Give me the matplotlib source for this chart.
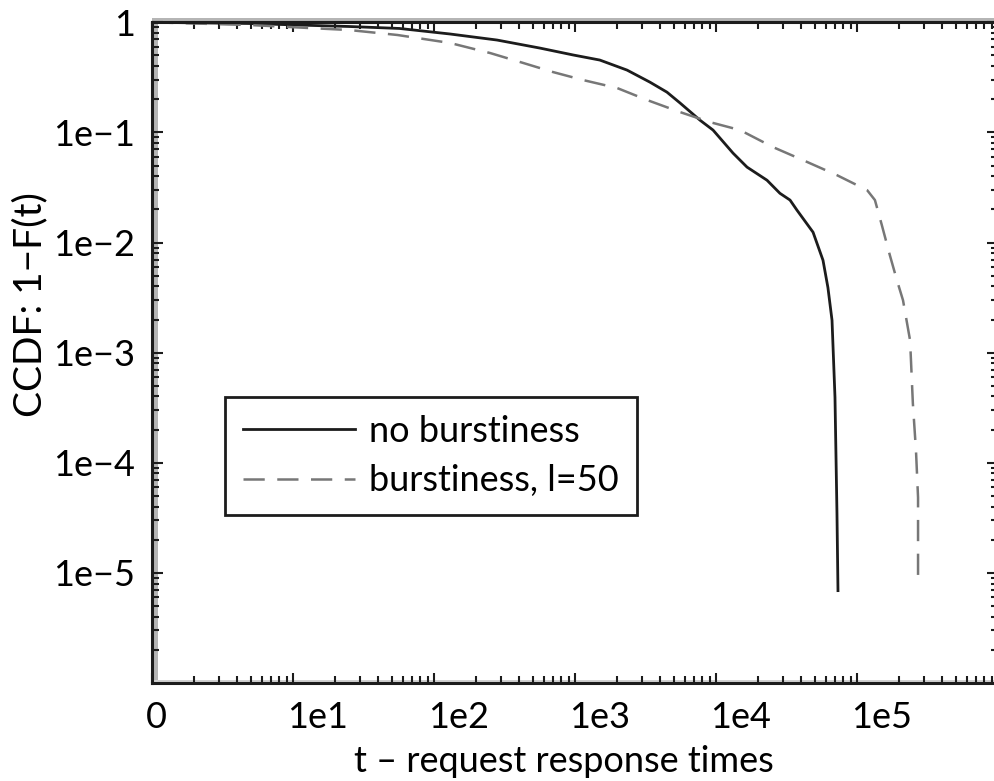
import numpy as np
import matplotlib
matplotlib.use("Agg")
import matplotlib.pyplot as plt
from matplotlib.ticker import FixedLocator, LogLocator, NullFormatter
import matplotlib.transforms as mtransforms
from matplotlib.patches import Rectangle

plt.rcParams['font.family'] = ['Lato', 'DejaVu Sans']

# ---- data ----
t_no_burst = [1, 5, 11, 25, 57, 130, 280, 565, 970, 1500, 2340, 3400, 4490, 5560,
              7710, 9530, 1.32e4, 1.66e4, 2.30e4, 2.84e4, 3.35e4, 3.75e4, 4.88e4,
              5.74e4, 6.22e4, 6.65e4, 6.98e4, 7.21e4, 7.33e4]
ccdf_no_burst = [1, 0.975, 0.944, 0.916, 0.879, 0.783, 0.690, 0.583, 0.505, 0.454,
                 0.368, 0.286, 0.232, 0.185, 0.129, 0.105, 0.0649, 0.0484, 0.0368,
                 0.0280, 0.0243, 0.0197, 0.0124, 0.0069, 0.0039, 0.00197, 3.93e-4,
                 3.46e-5, 6.9e-6]

t_burst = [1, 5, 11, 25, 55, 130, 250, 430, 700, 1140, 1990, 3240, 5560, 9060,
           1.48e4, 2.54e4, 4.14e4, 7.21e4, 1.18e5, 1.34e5, 1.50e5, 1.71e5, 1.92e5,
           2.12e5, 2.38e5, 2.49e5, 2.62e5, 2.71e5, 2.71e5]
ccdf_burst = [1, 0.944, 0.897, 0.851, 0.767, 0.649, 0.526, 0.427, 0.353, 0.299,
              0.253, 0.197, 0.153, 0.124, 0.105, 0.0735, 0.056, 0.0409, 0.0299,
              0.0243, 0.0144, 0.00767, 0.00454, 0.00299, 0.00129, 3.46e-4,
              1.29e-4, 4.84e-5, 8.9e-6]

x_ticks = [1, 1e1, 1e2, 1e3, 1e4, 1e5]
x_ticklabels = ['0', '1e1', '1e2', '1e3', '1e4', '1e5']
y_ticks = [1e-5, 1e-4, 1e-3, 1e-2, 1e-1, 1]
y_ticklabels = ['1e\u22125', '1e\u22124', '1e\u22123', '1e\u22122', '1e\u22121', '1']

labels = ['no burstiness', 'burstiness, l=50']

# ---- figure ----
W, H = 994, 781
fig = plt.figure(figsize=(W / 100, H / 100), dpi=100, facecolor='white')
L, R, T, B = 152, 998, 22.3, 683
ax = fig.add_axes([L / W, (H - B) / H, (R - L) / W, (B - T) / H])
ax.set_facecolor('none')

# faint grey shadow along the frame (as in the scanned original)
shadow = '#b5b5b5'
fig.add_artist(Rectangle((154 / W, (H - B) / H), 3.5 / W, (B - T) / H,
                         transform=fig.transFigure, color=shadow, lw=0, zorder=-1))
fig.add_artist(Rectangle((L / W, (H - B + 1) / H), (R - L) / W, 2.5 / H,
                         transform=fig.transFigure, color='#d0d0d0', lw=0, zorder=-1))
fig.add_artist(Rectangle((L / W, (H - T + 1) / H), (R - L) / W, 3 / H,
                         transform=fig.transFigure, color=shadow, lw=0, zorder=-1))

ax.plot(t_no_burst, ccdf_no_burst, color='#1c1c1c', lw=2.0, label=labels[0],
        solid_joinstyle='round')
ax.plot(t_burst, ccdf_burst, color='#777777', lw=1.8, linestyle=(0, (8.5, 5)),
        label=labels[1])

ax.set_xscale('log')
ax.set_yscale('log')
ax.set_xlim(1, 1e6)
ax.set_ylim(1e-6, 1)

fs = 26
ax.xaxis.set_major_locator(FixedLocator(x_ticks))
ax.set_xticklabels(x_ticklabels, fontsize=fs, ha='left')
ax.xaxis.set_minor_locator(LogLocator(base=10, subs=np.arange(2, 10), numticks=20))
ax.xaxis.set_minor_formatter(NullFormatter())
ax.yaxis.set_major_locator(FixedLocator(y_ticks))
ax.set_yticklabels(y_ticklabels, fontsize=fs)
ax.yaxis.set_minor_locator(LogLocator(base=10, subs=np.arange(2, 10), numticks=20))
ax.yaxis.set_minor_formatter(NullFormatter())

ax.tick_params(which='both', direction='in', top=True, right=True, width=1.5,
               color='#1c1c1c')
ax.tick_params(axis='x', which='major', length=7, pad=13)
ax.tick_params(axis='x', which='minor', length=5)
ax.tick_params(axis='y', which='major', length=8, pad=12)
ax.tick_params(axis='y', which='minor', length=5)

offset = mtransforms.ScaledTranslation(-6 / 100, 0, fig.dpi_scale_trans)
for lbl in ax.get_xticklabels():
    lbl.set_transform(lbl.get_transform() + offset)

for sp in ax.spines.values():
    sp.set_linewidth(2.2)
    sp.set_color('#1c1c1c')

fig.text(564 / W, 1 - 762 / H, 't \u2013 request response times', fontsize=fs,
         ha='center', va='center')
fig.text(30 / W, 1 - 305 / H, 'CCDF: 1\u2212F(t)', fontsize=28, rotation=90,
         ha='center', va='center')

leg = ax.legend(loc='upper left', bbox_to_anchor=(225 / W, 1 - 397 / H),
                bbox_transform=fig.transFigure, borderaxespad=0, fontsize=fs,
                handlelength=3.1, handletextpad=0.4, labelspacing=0.45,
                borderpad=0.5, fancybox=False, framealpha=1,
                edgecolor='#1c1c1c')
leg.get_frame().set_linewidth(2.0)

fig.savefig('out.png', dpi=100, facecolor='white')
